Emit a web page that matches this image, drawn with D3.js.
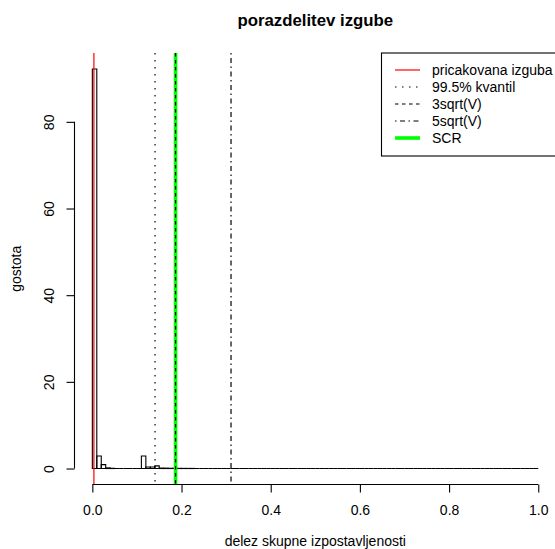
<!DOCTYPE html>
<html lang="en">
  <head>
    <meta charset="UTF-8" />
    <title>porazdelitev izgube</title>
    <script src="https://cdn.jsdelivr.net/npm/d3@7"></script>
    <style>
      body { margin: 0; background: #fff; }
      svg { display: block; font-family: "Liberation Sans", Arial, sans-serif; }
    </style>
  </head>
  <body>
    <script>
      // histogram: bin width 0.01 from 0 to 1, density per bin
      const binWidth = 0.01;
      const densities = [
        92.2, 2.9, 0.9, 0.15, 0.05, 0, 0, 0, 0, 0,
        0, 2.9, 0.35, 0.35, 0.6, 0.1, 0.08, 0.05, 0.05, 0.03,
        0.03, 0.02, 0.02, 0, 0, 0, 0, 0, 0, 0,
        0, 0, 0, 0, 0, 0, 0, 0, 0, 0,
        0, 0, 0, 0, 0, 0, 0, 0, 0, 0,
        0, 0, 0, 0, 0, 0, 0, 0, 0, 0,
        0, 0, 0, 0, 0, 0, 0, 0, 0, 0,
        0, 0, 0, 0, 0, 0, 0, 0, 0, 0,
        0, 0, 0, 0, 0, 0, 0, 0, 0, 0,
        0, 0, 0, 0, 0, 0, 0, 0, 0, 0,
      ];

      // reference lines (value on x axis) and legend
      const refLabels = ["pricakovana izguba", "99.5% kvantil", "3sqrt(V)", "5sqrt(V)", "SCR"];
      const refValues = [0.0035, 0.1406, 0.1866, 0.311, 0.1866];
      const refColors = ["#ff0000", "#000", "#000", "#000", "#00ff00"];
      const refDash = [null, "1.5,5.5", "3.5,3.5", "1.5,3.5,5,3.5", null];
      const refWidth = [1.2, 1.2, 1.2, 1.2, 3.6];
      const drawOrder = [0, 1, 4, 2, 3];

      const xTicks = [0, 0.2, 0.4, 0.6, 0.8, 1.0];
      const yTicks = [0, 20, 40, 60, 80];

      const width = 555;
      const height = 549;
      // plot region (R style, 4% axis expansion)
      const plot = { left: 74.5, right: 556.1, top: 53, bottom: 484.5 };
      const yMax = d3.max(densities);
      const lineH = 16.8;

      const x = d3.scaleLinear().domain([-0.04, 1.04]).range([plot.left, plot.right]);
      const y = d3.scaleLinear().domain([-0.04 * yMax, 1.04 * yMax]).range([plot.bottom, plot.top]);

      const svg = d3.select("body").append("svg").attr("width", width).attr("height", height);

      svg.append("defs").append("clipPath").attr("id", "clip")
        .append("rect")
        .attr("x", plot.left).attr("y", plot.top)
        .attr("width", plot.right - plot.left).attr("height", plot.bottom - plot.top);

      // bars (drawn as closed paths so empty bins still show the base line)
      const bins = densities.map((d, i) => ({ x0: i * binWidth, x1: (i + 1) * binWidth, d }));
      svg.append("g")
        .selectAll("path")
        .data(bins)
        .join("path")
        .attr("d", (b) => `M${x(b.x0)},${y(0)}V${y(b.d)}H${x(b.x1)}V${y(0)}Z`)
        .attr("fill", "none")
        .attr("stroke", "#000")
        .attr("stroke-width", 1.1);

      // vertical lines
      svg.append("g")
        .attr("clip-path", "url(#clip)")
        .selectAll("line")
        .data(drawOrder)
        .join("line")
        .attr("x1", (i) => x(refValues[i]))
        .attr("x2", (i) => x(refValues[i]))
        .attr("y1", plot.top)
        .attr("y2", plot.bottom)
        .attr("stroke", (i) => refColors[i])
        .attr("stroke-width", (i) => refWidth[i])
        .attr("stroke-dasharray", (i) => refDash[i]);

      // x axis
      const xAxis = svg.append("g").attr("transform", `translate(0,${plot.bottom})`)
        .call(d3.axisBottom(x).tickValues(xTicks).tickSize(8).tickSizeOuter(0).tickPadding(0)
          .tickFormat(d3.format(".1f")));
      xAxis.select(".domain").remove();
      xAxis.append("line")
        .attr("x1", x(xTicks[0])).attr("x2", x(xTicks[xTicks.length - 1]))
        .attr("stroke", "#000").attr("stroke-width", 1.1);
      xAxis.selectAll(".tick line").attr("stroke-width", 1.1);
      xAxis.selectAll(".tick text")
        .attr("y", 30).attr("dy", null)
        .attr("fill", "#000").attr("font-size", 14)
        .style("font-family", "Liberation Sans, Arial, sans-serif");

      // y axis
      const yAxis = svg.append("g").attr("transform", `translate(${plot.left},0)`)
        .call(d3.axisLeft(y).tickValues(yTicks).tickSize(8).tickSizeOuter(0));
      yAxis.select(".domain").remove();
      yAxis.append("line")
        .attr("y1", y(yTicks[0])).attr("y2", y(yTicks[yTicks.length - 1]))
        .attr("stroke", "#000").attr("stroke-width", 1.1);
      yAxis.selectAll(".tick line").attr("stroke-width", 1.1);
      yAxis.selectAll(".tick text")
        .attr("x", null).attr("dy", null)
        .attr("text-anchor", "middle")
        .attr("transform", "translate(-20.5,0) rotate(-90)")
        .attr("fill", "#000").attr("font-size", 14)
        .style("font-family", "Liberation Sans, Arial, sans-serif");

      // titles
      svg.append("text")
        .attr("x", (plot.left + plot.right) / 2).attr("y", 26)
        .attr("text-anchor", "middle")
        .attr("font-size", 16.8).attr("font-weight", "bold")
        .text("porazdelitev izgube");

      svg.append("text")
        .attr("x", (plot.left + plot.right) / 2).attr("y", plot.bottom + 3 * lineH + 11.5)
        .attr("text-anchor", "middle")
        .attr("font-size", 14)
        .text("delez skupne izpostavljenosti");

      svg.append("text")
        .attr("transform", `translate(21,${(plot.top + plot.bottom) / 2}) rotate(-90)`)
        .attr("text-anchor", "middle")
        .attr("font-size", 14)
        .text("gostota");

      // legend
      const legend = svg.append("g");
      const legTop = plot.top;
      const legLeft = 381.5;
      const rowH = 17;
      legend.append("rect")
        .attr("x", legLeft).attr("y", legTop)
        .attr("width", plot.right - legLeft).attr("height", rowH * (refLabels.length + 1) + 1)
        .attr("fill", "#fff").attr("stroke", "#000").attr("stroke-width", 1.1);

      const rows = legend.selectAll("g.row")
        .data(refLabels)
        .join("g")
        .attr("class", "row")
        .attr("transform", (d, i) => `translate(0,${legTop + rowH * (i + 1)})`);
      rows.append("line")
        .attr("x1", 395).attr("x2", 420)
        .attr("stroke", (d, i) => refColors[i])
        .attr("stroke-width", (d, i) => refWidth[i])
        .attr("stroke-dasharray", (d, i) => refDash[i]);
      rows.append("text")
        .attr("x", 432).attr("dy", "0.35em")
        .attr("font-size", 14)
        .text((d) => d);
    </script>
  </body>
</html>
